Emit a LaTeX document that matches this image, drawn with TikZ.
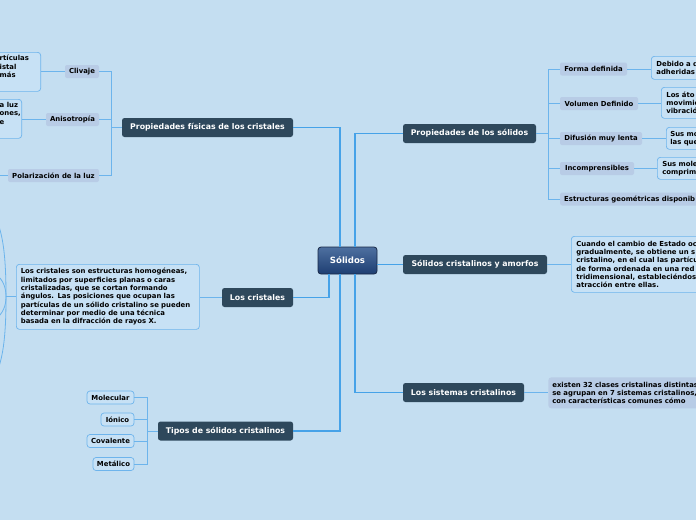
\documentclass[tikz,border=0pt]{standalone}
\usepackage{fontspec}
\setmainfont{DejaVu Sans}
\usepackage{tikz}
\usetikzlibrary{positioning, calc}

\definecolor{fondo}{RGB}{196,222,241}
\definecolor{temafondo}{RGB}{46,72,92}
\definecolor{subfondo}{RGB}{184,204,230}
\definecolor{hojafondo}{RGB}{199,225,245}
\definecolor{hojaborde}{RGB}{110,180,236}
\definecolor{troncocol}{RGB}{70,162,232}
\definecolor{ramacol}{RGB}{108,180,236}
\definecolor{raizarriba}{RGB}{78,112,160}
\definecolor{raizabajo}{RGB}{30,62,114}
\definecolor{raizborde}{RGB}{24,40,70}

\begin{document}
\begin{tikzpicture}[x=1pt, y=-1pt,
    raiz/.style={draw=raizborde, line width=0.8pt, top color=raizarriba, bottom color=raizabajo,
      rounded corners=3pt, text=white, minimum width=59pt, minimum height=27pt, inner sep=0pt,
      font=\fontsize{8.6}{10}\selectfont\bfseries},
    tema/.style={fill=temafondo, text=white, rounded corners=2.5pt, minimum height=19pt,
      inner sep=0pt, font=\fontsize{7.8}{9}\selectfont\bfseries},
    sub/.style={fill=subfondo, rounded corners=2pt, minimum height=13pt, inner sep=0pt,
      font=\fontsize{6.9}{8}\selectfont\bfseries},
    hoja/.style={fill=hojafondo, draw=hojaborde, line width=0.7pt, rounded corners=3pt,
      minimum height=13pt, inner sep=0pt, font=\fontsize{6.9}{8}\selectfont\bfseries},
    nota/.style={hoja, align=left, anchor=north west, inner xsep=5pt, inner ysep=2pt,
      font=\fontsize{6.9}{8.3}\selectfont\bfseries},
    trozo/.style={anchor=north west, align=left, inner sep=0pt,
      font=\fontsize{6.9}{8.5}\selectfont\bfseries},
    tronco/.style={draw=troncocol, line width=1.2pt},
    rama/.style={draw=ramacol, line width=1pt},
  ]
\fill[fondo] (0,0) rectangle (696,520);
\useasboundingbox (0,0) rectangle (696,520);

% centro y temas
\node[raiz] (solidos) at (347.5,260.5) {Sólidos};
\node[tema, minimum width=171pt] (fisicas) at (207.5,127.5) {Propiedades físicas de los cristales};
\node[tema, minimum width=71pt] (cristales) at (257.5,297.5) {Los cristales};
\node[tema, minimum width=135pt] (tipos) at (225.5,431) {Tipos de sólidos cristalinos};
\node[tema, minimum width=133pt] (props) at (469.5,133.5) {Propiedades de los sólidos};
\node[tema, minimum width=144pt] (amorfos) at (475,264.5) {Sólidos cristalinos y amorfos};
\node[tema, minimum width=121pt] (sistemas) at (463.5,392.5) {Los sistemas cristalinos};

\draw[tronco] ([xshift=-7.5pt]solidos.north) |- (fisicas.east);
\draw[tronco] ([xshift=-7.5pt]solidos.south) |- (tipos.east);
\draw[tronco] ([xshift=-18.5pt]solidos.south) |- (cristales.east);
\draw[tronco] ([xshift=7.5pt]solidos.north) |- (props.west);
\draw[tronco] ([xshift=7.5pt]solidos.south) |- (sistemas.west);
\draw[tronco] (solidos.east |- amorfos.west) -- (amorfos.west);

% propiedades de los solidos
\node[sub, minimum width=67pt] (forma) at (593.5,69) {Forma definida};
\node[sub, minimum width=78pt] (volumen) at (599,103.5) {Volumen Definido};
\node[sub, minimum width=82pt] (difusion) at (601,138.5) {Difusión muy lenta};
\node[sub, minimum width=74pt] (incomp) at (597,168.5) {Incomprensibles};
\node[sub, anchor=west, text width=150pt, align=left, inner xsep=4pt] (estruct) at (560,199)
  {Estructuras geométricas disponib};
\foreach \h in {forma,volumen,difusion,incomp,estruct}
  \draw[rama] (props.east) -- +(12,0) |- (\h.west);

\node[nota, text width=120pt, minimum height=23pt] (formanota) at (651,56) {Debido a q\\adheridas};
\node[nota, text width=120pt, minimum height=31pt] (volnota) at (661,87) {Los áto\\movimie\\vibració};
\node[nota, text width=120pt, minimum height=22pt, inner xsep=4pt] (difnota) at (666,127) {Sus mo\\las que};
\node[nota, text width=120pt, minimum height=22pt] (incnota) at (657,157) {Sus mole\\comprim};
\draw[rama] (forma.east) -- (forma.east -| formanota.west);
\draw[rama] (volumen.east) -- (volumen.east -| volnota.west);
\draw[rama] (difusion.east) -- (difusion.east -| difnota.west);
\draw[rama] (incomp.east) -- (incomp.east -| incnota.west);

% amorfos y sistemas
\node[nota, text width=160pt, minimum height=56pt] (amorfnota) at (571,236)
  {Cuando el cambio de Estado oc\\gradualmente, se obtiene un s\\cristalino, en el cual las partícu\\de forma ordenada en una red\\tridimensional, estableciéndos\\atracción entre ellas.};
\draw[rama] (amorfos.east) -- (amorfnota.west |- amorfos.east);
\node[nota, draw=none, fill=subfondo, text width=180pt, minimum height=31pt, inner xsep=4pt] (sistnota) at (548,377)
  {existen 32 clases cristalinas distintas\\se agrupan en 7 sistemas cristalinos,\\con características comunes cómo};
\draw[rama] (sistemas.east) -- (sistnota.west |- sistemas.east);

% propiedades fisicas
\node[sub, minimum width=34pt] (clivaje) at (82,71.5) {Clivaje};
\node[sub, minimum width=53pt] (aniso) at (72.5,119.5) {Anisotropía};
\node[sub, minimum width=91pt] (polar) at (53.5,175.5) {Polarización de la luz};
\foreach \h in {clivaje,aniso,polar}
  \draw[rama] (fisicas.west) -- +(-10,0) |- (\h.east);

\node[hoja, anchor=north east, minimum width=80pt, minimum height=39pt] (clivnota) at (41,52) {};
\node[trozo] at (-0.5,55) {rtículas\\istal\\más};
\node[hoja, anchor=north east, minimum width=60pt, minimum height=39pt] (anisonota) at (22,99) {};
\node[trozo] at (-0.5,102) {a luz\\ones,\\e};
\coordinate (polarfin) at (-5,175.5);
\draw[rama] (clivaje.west) -- (clivaje.west -| clivnota.east);
\draw[rama] (aniso.west) -- (aniso.west -| anisonota.east);
\draw[rama] (polar.west) -- (polarfin);

% los cristales
\node[nota, text width=174pt, minimum height=65pt, inner xsep=4.5pt] (crisnota) at (16,264)
  {Los cristales son estructuras homogéneas,\\limitados por superficies planas o caras\\cristalizadas, que se cortan formando\\ángulos. Las posiciones que ocupan las\\partículas de un sólido cristalino se pueden\\determinar por medio de una técnica\\basada en la difracción de rayos X.};
\draw[rama] (cristales.west) -- (cristales.west -| crisnota.east);
\draw[rama] (crisnota.west) -- +(-10,0) coordinate (abanico);
\coordinate (hijoa) at (-6,214);
\coordinate (hijob) at (-4,274);
\coordinate (hijoc) at (-4,319);
\coordinate (hijod) at (-6,379);
\draw[rama, line width=0.8pt] (abanico) .. controls (6,255) and (3,232) .. (hijoa);
\draw[rama, line width=0.8pt] (abanico) .. controls (6,287) and (3,280) .. (hijob);
\draw[rama, line width=0.8pt] (abanico) .. controls (6,306) and (3,313) .. (hijoc);
\draw[rama, line width=0.8pt] (abanico) .. controls (6,338) and (3,361) .. (hijod);

% tipos
\node[hoja, minimum width=47pt] (molecular) at (110.5,397.5) {Molecular};
\node[hoja, minimum width=33pt] (ionico) at (117.5,419.5) {Iónico};
\node[hoja, minimum width=47pt] (covalente) at (110.5,441) {Covalente};
\node[hoja, minimum width=41pt] (metalico) at (113.5,464) {Metálico};
\foreach \h in {molecular,ionico,covalente,metalico}
  \draw[rama] (tipos.west) -- +(-10,0) |- (\h.east);
\end{tikzpicture}
\end{document}
